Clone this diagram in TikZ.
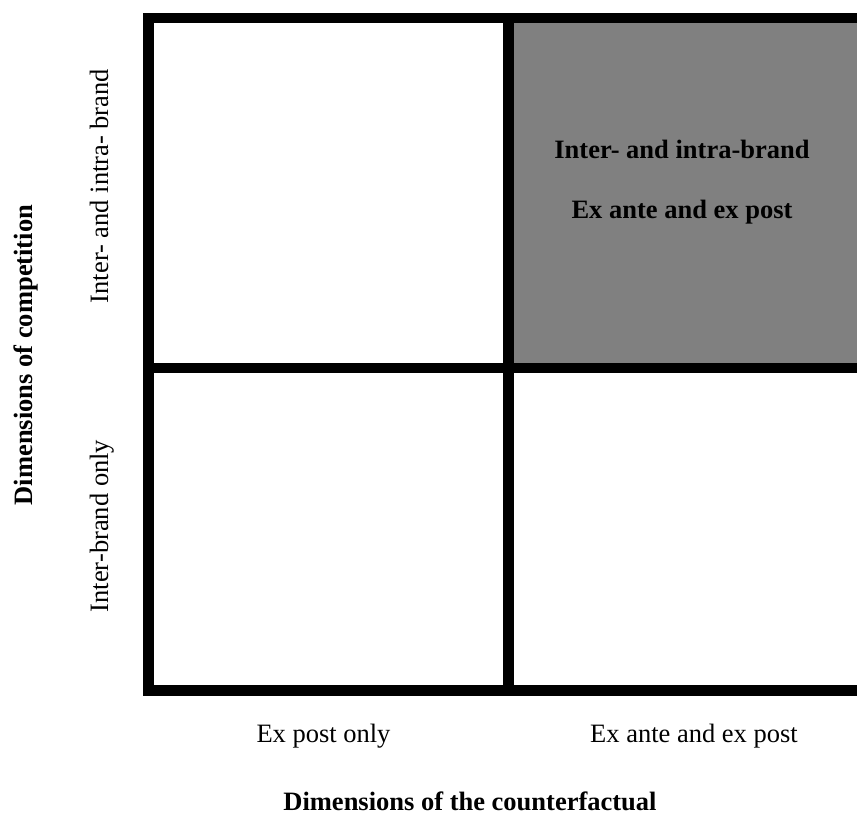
\documentclass[tikz,border=0pt]{standalone}
\usepackage{fontspec}
\setmainfont{Liberation Serif}
\begin{document}
\begin{tikzpicture}[x=1pt,y=-1pt,
  gridline/.style={line width=10.5pt,line cap=rect},
  lbl/.style={font=\fontsize{26.5}{30}\selectfont,inner sep=0pt,anchor=base},
  bold lbl/.style={lbl,font=\fontsize{26.5}{30}\selectfont\bfseries}]
\useasboundingbox (0,0) rectangle (857,815);
\clip (0,0) rectangle (857,815);
% grid corners
\coordinate (tl) at (148.5,18);
\coordinate (tm) at (508.5,18);
\coordinate (tr) at (880,18);
\coordinate (ml) at (148.5,368);
\coordinate (mm) at (508.5,368);
\coordinate (mr) at (880,368);
\coordinate (bl) at (148.5,690.5);
\coordinate (bm) at (508.5,690.5);
\coordinate (br) at (880,690.5);
% shaded cell
\fill[fill={rgb,255:red,128;green,128;blue,128}] (tm) rectangle (mr);
% grid
\draw[gridline] (tl) -- (tr);
\draw[gridline] (ml) -- (mr);
\draw[gridline] (bl) -- (br);
\draw[gridline] (tl) -- (bl);
\draw[gridline] (tm) -- (bm);
% cell text
\node[bold lbl] (c1) at (682,158) {Inter- and intra-brand};
\node[bold lbl] (c2) at (682,218) {Ex ante and ex post};
% column labels
\node[lbl] (x1) at (323.5,742) {Ex post only};
\node[lbl] (x2) at (694,742) {Ex ante and ex post};
\node[bold lbl] (xt) at (470,810) {Dimensions of the counterfactual};
% row labels
\node[lbl,rotate=90] (y1) at (108,186) {Inter- and intra- brand};
\node[lbl,rotate=90] (y2) at (108,526) {Inter-brand only};
\node[bold lbl,rotate=90] (yt) at (32,355) {Dimensions of competition};
\end{tikzpicture}
\end{document}
